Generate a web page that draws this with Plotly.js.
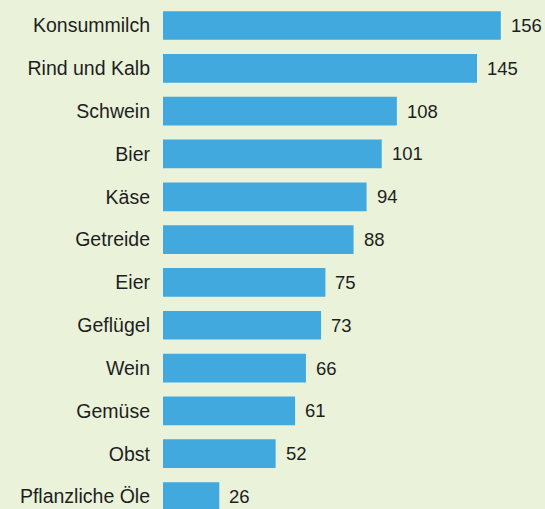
<!DOCTYPE html>
<html>
<head>
<meta charset="utf-8">
<script src="https://cdn.plot.ly/plotly-3.0.1.min.js"></script>
<style>html,body{margin:0;padding:0;background:#eaf2da;}#chart{width:545px;height:509px;}</style>
</head>
<body>
<div id="chart"></div>
<script>
const categories = ["Konsummilch","Rind und Kalb","Schwein","Bier","Käse","Getreide","Eier","Geflügel","Wein","Gemüse","Obst","Pflanzliche Öle"];
const values = [156,145,108,101,94,88,75,73,66,61,52,26];

const fontFam = '"Liberation Sans", Arial, sans-serif';
const annotations = categories.map((c,i)=>({
  x: values[i], y: c, xref:'x', yref:'y', text: String(values[i]),
  showarrow:false, xanchor:'left', yanchor:'middle', xshift:8,
  font:{family:fontFam,size:18.5,color:'#1e1e1e'}
}));

Plotly.newPlot('chart',[{
  type:'bar', orientation:'h', x: values, y: categories,
  marker:{color:'#41a9de', line:{width:0}},
  hoverinfo:'none'
}],{
  width:545, height:509,
  margin:{l:162.7,r:0,t:0,b:0,pad:0},
  paper_bgcolor:'#eaf2da', plot_bgcolor:'#eaf2da',
  bargap:0.33,
  showlegend:false,
  xaxis:{range:[0,176.4], visible:false, fixedrange:true},
  yaxis:{type:'category', range:[11.292,-0.596], showgrid:false, zeroline:false, showline:false,
         ticks:'', ticklabelstandoff:12, tickfont:{family:fontFam,size:19.5,color:'#1e1e1e'}},
  annotations: annotations,
  font:{family:fontFam}
},{staticPlot:true});
</script>
</body>
</html>
